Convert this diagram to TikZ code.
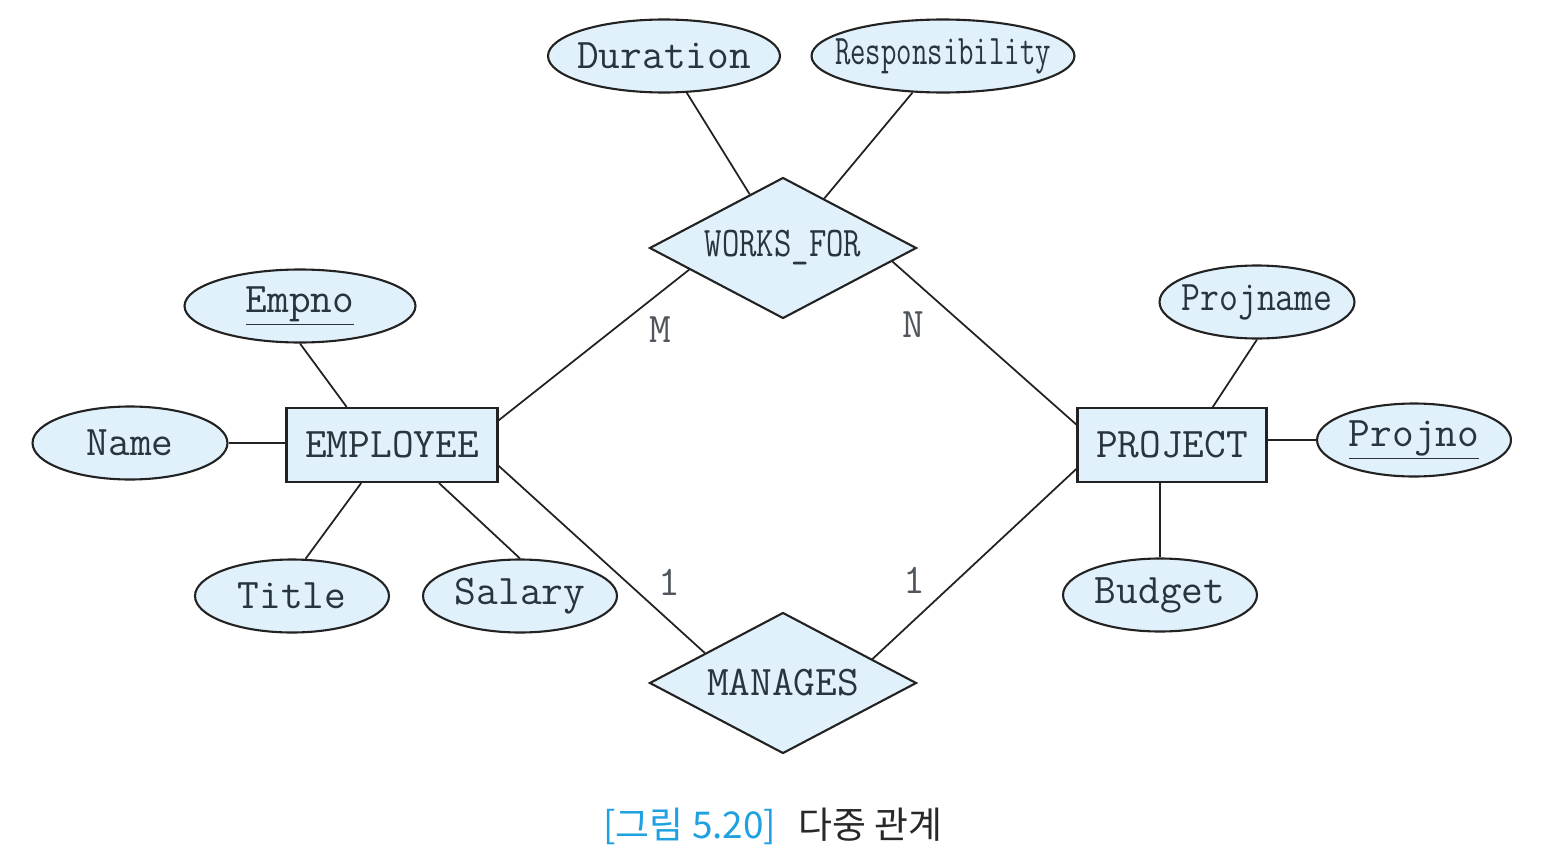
\documentclass[tikz,border=0pt]{standalone}
\usepackage{fontspec}
\usepackage{graphicx}
\usepackage{tikz}
\usetikzlibrary{shapes.geometric}
\newfontfamily\krfont{Noto Sans CJK KR}
\definecolor{erfill}{RGB}{224,241,251}
\definecolor{erline}{RGB}{34,34,34}
\definecolor{ertext}{RGB}{40,52,62}
\definecolor{cardtext}{RGB}{80,86,92}
\definecolor{capblue}{RGB}{30,160,225}
\definecolor{captext}{RGB}{40,40,40}
%Keep label width out of the shape size
\newcommand{\lbl}[1]{\makebox[0pt]{#1}}
\newcommand{\narrow}[2]{\scalebox{#1}[1]{#2}}
\tikzset{
    %Define style for attributes
    attr/.style={
           ellipse,
           draw=erline, line width=1.2pt,
           fill=erfill,
           minimum width=3.88cm,
           minimum height=1.46cm,
           inner sep=0pt,
           font=\ttfamily\fontsize{24}{28}\selectfont,
           text=ertext},
    %Define style for entities
    entity/.style={
           rectangle,
           draw=erline, line width=1.2pt,
           fill=erfill,
           minimum height=1.48cm,
           inner sep=0pt,
           font=\ttfamily\fontsize{24}{28}\selectfont,
           text=ertext},
    %Define style for relationships
    relation/.style={
           diamond,
           aspect=1.9,
           draw=erline, line width=1.2pt,
           fill=erfill,
           minimum width=5.34cm,
           minimum height=2.82cm,
           inner sep=0pt,
           font=\ttfamily\fontsize{24}{28}\selectfont,
           text=ertext},
    card/.style={
           font=\ttfamily\fontsize{24}{28}\selectfont,
           text=cardtext},
    figcaption/.style={
           font=\krfont\fontsize{21}{25}\selectfont,
           text=captext},
    % Define line style
    link/.style={
           every edge/.style={draw=erline, line width=1pt}}
}
\begin{document}
\begin{tikzpicture}[x=0.02cm,y=-0.02cm]
\useasboundingbox (0,0) rectangle (1542,862);
 %relationships
\node[relation](worksfor) at (783,248){\lbl{\narrow{0.8}{WORKS\_FOR}}};
\node[relation](manages) at (783,683){\lbl{MANAGES}};
 %entities
\node[entity, minimum width=4.22cm](employee) at (392,445){EMPLOYEE};
\node[entity, minimum width=3.78cm](project) at (1172,445){PROJECT};
 %attributes
\node[attr, minimum width=4.64cm](duration) at (664,56){\lbl{Duration}};
\node[attr, minimum width=5.26cm](resp) at (943,56){\lbl{\narrow{0.71}{Responsibility}}};
\node[attr, minimum width=4.62cm](empno) at (300,306){\lbl{\underline{Empno}}};
\node[attr, minimum width=3.9cm](name) at (130,443){\lbl{Name}};
\node[attr](title) at (292,596){\lbl{Title}};
\node[attr](salary) at (520,596){\lbl{Salary}};
\node[attr, minimum width=3.9cm](projname) at (1257,302){\lbl{\narrow{0.87}{Projname}}};
\node[attr](projno) at (1414,440){\lbl{\underline{Projno}}};
\node[attr](budget) at (1160,595){\lbl{Budget}};
 %cardinalities
\node[card](cardM) at (660,330){M};
\node[card](cardN) at (913,325){N};
\node[card](cardEmp) at (669,582){1};
\node[card](cardProj) at (914,580){1};
\path[link]
    (duration) edge (worksfor)
    (resp) edge (worksfor)
    (employee.13) edge (worksfor.193)
    (project.168) edge (worksfor.-7)
    (employee.-11) edge (manages.159)
    (project.194) edge (manages.15)
    (empno.south) edge (employee.140)
    (name.east) edge (name.east -| employee.west)
    (title.70) edge (employee.231)
    (salary.north) edge (employee.321)
    (projname.south) edge (project.43)
    (projno.west) edge (projno.west -| project.east)
    (budget.north) edge (budget.north |- project.south);
 %caption
\node[figcaption](caption) at (773,826){{\color{capblue}[그림 5.20]}\hspace{0.6em}다중 관계};
\end{tikzpicture}
\end{document}
